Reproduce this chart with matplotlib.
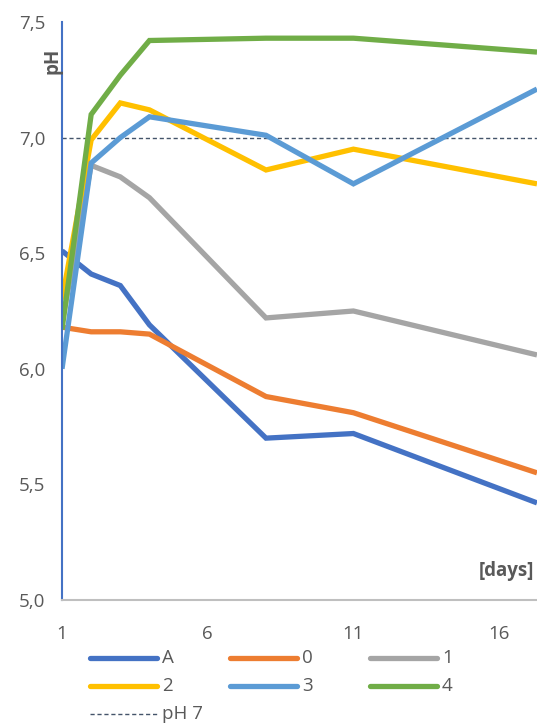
import matplotlib
matplotlib.use("Agg")
import matplotlib.pyplot as plt
from matplotlib.lines import Line2D

plt.rcParams["font.family"] = ["Open Sans", "DejaVu Sans"]

days = [1, 2, 3, 4, 8, 11, 17.3]
series_names = ["A", "0", "1", "2", "3", "4"]
ph_A = [6.51, 6.41, 6.36, 6.19, 5.70, 5.72, 5.42]
ph_0 = [6.18, 6.16, 6.16, 6.15, 5.88, 5.81, 5.55]
ph_1 = [6.20, 6.88, 6.83, 6.74, 6.22, 6.25, 6.06]
ph_2 = [6.30, 6.99, 7.15, 7.12, 6.86, 6.95, 6.80]
ph_3 = [6.00, 6.89, 7.00, 7.09, 7.01, 6.80, 7.21]
ph_4 = [6.17, 7.10, 7.27, 7.42, 7.43, 7.43, 7.37]
x_ticks = [1, 6, 11, 16]
y_ticks = [5.0, 5.5, 6.0, 6.5, 7.0, 7.5]
ph_neutral = 7.0

colors = ["#4472C4", "#ED7D31", "#A5A5A5", "#FFC000", "#5B9BD5", "#70AD47"]
all_series = [ph_A, ph_0, ph_1, ph_2, ph_3, ph_4]
TXT = "#595959"
REF = "#44546A"
DASH = (0, (3, 2))
W, H = 537, 724

fig = plt.figure(figsize=(W / 100, H / 100), dpi=100)
ax = fig.add_axes([0.1155, 0.1713, 0.8845, 0.7983])

for name, vals, c in zip(series_names, all_series, colors):
    ax.plot(days, vals, color=c, lw=3.8, solid_capstyle="butt",
            solid_joinstyle="miter", label=name)

ax.axhline(ph_neutral, color=REF, lw=1.0, ls=DASH, zorder=1)

ax.set_xlim(1, 17.3)
ax.set_ylim(5.0, 7.5)
ax.set_xticks(x_ticks)
ax.set_yticks(y_ticks)
ax.set_yticklabels([f"{v:.1f}".replace(".", ",") for v in y_ticks])
ax.tick_params(length=0, labelsize=13.5, colors=TXT)
ax.tick_params(axis="x", pad=18)
ax.tick_params(axis="y", pad=12)

for s in ["top", "right"]:
    ax.spines[s].set_visible(False)
ax.spines["left"].set_color("#4472C4")
ax.spines["left"].set_linewidth(1.5)
ax.spines["bottom"].set_color("#BFBFBF")
ax.spines["bottom"].set_linewidth(1.5)

# axis titles sit close to the plot area
fig.text(52 / W, 1 - 48 / H, "pH", rotation=90, ha="center", va="top",
         fontsize=13.5, fontweight="bold", color=TXT)
ax.text(0.993, 0.05, "[days]", transform=ax.transAxes,
        ha="right", va="center", fontsize=13.5, fontweight="bold", color=TXT)

# legend laid out by hand: 3 columns, row-major, pH 7 on its own row
col_x = [90, 230, 370]
row_y = [658, 686, 714]
hl = 67
entries = [(n, c, "-") for n, c in zip(series_names, colors)] + [("pH 7", REF, DASH)]
for i, (label, c, ls) in enumerate(entries):
    x0, y0 = col_x[i % 3], row_y[i // 3]
    lw = 3.8 if ls == "-" else 1.0
    fig.add_artist(Line2D([x0 / W, (x0 + hl) / W], [1 - y0 / H] * 2,
                          color=c, lw=lw, ls=ls, solid_capstyle="round",
                          transform=fig.transFigure))
    fig.text((x0 + hl + 5) / W, 1 - y0 / H, label, ha="left", va="center",
             fontsize=13.5, color=TXT)

fig.savefig("out.png", dpi=100, facecolor="white")
